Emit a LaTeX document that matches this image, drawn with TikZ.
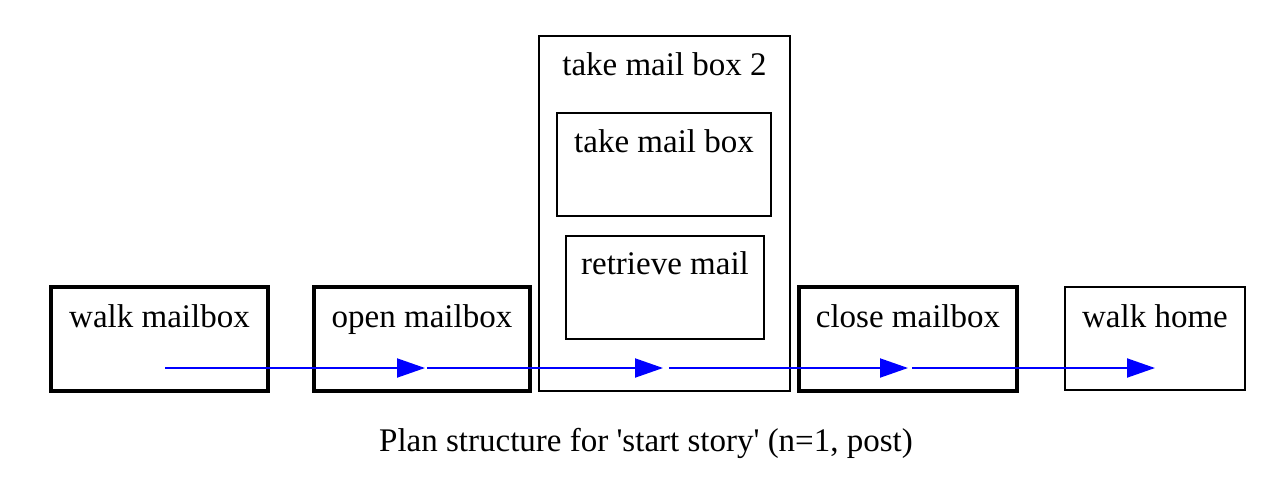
\documentclass[tikz,border=0pt]{standalone}
\usepackage{fontspec}
\setmainfont{Liberation Serif}
\usetikzlibrary{arrows.meta}
\begin{document}
\begin{tikzpicture}[x=0.5pt,y=-0.5pt,
  thickbox/.style={draw=black,line width=2pt,minimum width=#1*0.5pt,minimum height=104*0.5pt,inner sep=0pt,outer sep=0pt},
  thinbox/.style={draw=black,line width=1pt,inner sep=0pt,outer sep=0pt},
  lbl/.style={font=\fontsize{16.5}{19}\selectfont,anchor=base,inner sep=0pt},
  flow/.style={draw=blue,line width=1pt,-{Triangle[length=14pt,width=9.5pt]}}]
\useasboundingbox (0,0) rectangle (1278,482);
% outer container
\node[thinbox,minimum width=251*0.5pt,minimum height=355*0.5pt] (tmb2) at (664.5,213.5) {};
\node[lbl] (tmb2t) at (664.5,75) {take mail box 2};
\node[thinbox,minimum width=214*0.5pt,minimum height=103*0.5pt] (tmb) at (664,164.5) {};
\node[lbl] (tmbt) at (664,152) {take mail box};
\node[thinbox,minimum width=198*0.5pt,minimum height=103*0.5pt] (rm) at (665,287.5) {};
\node[lbl] (rmt) at (665,274) {retrieve mail};
% steps
\node[thickbox=217] (wm) at (159.5,339) {};
\node[lbl] (wmt) at (159.5,327) {walk mailbox};
\node[thickbox=216] (om) at (422,339) {};
\node[lbl] (omt) at (422,327) {open mailbox};
\node[thickbox=218] (cm) at (908,339) {};
\node[lbl] (cmt) at (908,327) {close mailbox};
\node[thinbox,minimum width=180*0.5pt,minimum height=103*0.5pt] (wh) at (1155,338.5) {};
\node[lbl] (wht) at (1155,327) {walk home};
% flow coordinates
\coordinate (p1) at (165,368);
\coordinate (p2) at (425,368);
\coordinate (p3) at (427,368);
\coordinate (p4) at (663,368);
\coordinate (p5) at (669,368);
\coordinate (p6) at (908,368);
\coordinate (p7) at (912,368);
\coordinate (p8) at (1155,368);
\draw[flow] (p1) -- (p2);
\draw[flow] (p3) -- (p4);
\draw[flow] (p5) -- (p6);
\draw[flow] (p7) -- (p8);
\node[lbl] (cap) at (646,451) {Plan structure for \textquotesingle start story\textquotesingle{} (n=1, post)};
\end{tikzpicture}
\end{document}
